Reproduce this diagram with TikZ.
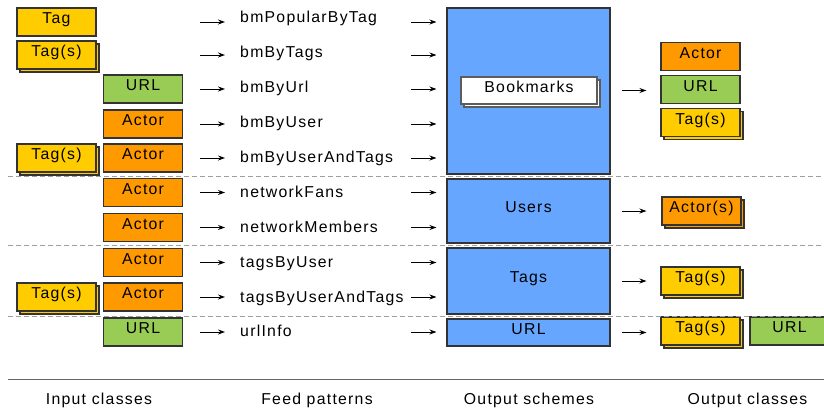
\documentclass[tikz,border=0pt]{standalone}
\usepackage{fontspec}
\setmainfont{Liberation Sans}[LetterSpace=8]
\usetikzlibrary{arrows.meta,shadows}
\definecolor{tagyellow}{RGB}{255,204,0}
\definecolor{actororange}{RGB}{255,153,0}
\definecolor{urlgreen}{RGB}{153,204,85}
\definecolor{schemeblue}{RGB}{102,166,255}
\definecolor{edgegray}{RGB}{51,51,51}
\begin{document}
\begin{tikzpicture}[x=1pt, y=-1pt,
  every node/.style={font=\fontsize{15.8}{17}\selectfont, text=black},
  cls/.style={draw=edgegray, line width=1.1pt, minimum width=79pt, minimum height=28pt,
    inner sep=0pt, text height=10pt, text depth=7pt},
  tagcls/.style={cls, fill=tagyellow},
  tagscls/.style={tagcls, general shadow={shadow xshift=3pt, shadow yshift=-3pt,
    fill=tagyellow, draw=edgegray, line width=1.1pt}},
  actorcls/.style={cls, fill=actororange},
  actorscls/.style={actorcls, general shadow={shadow xshift=3pt, shadow yshift=-3pt,
    fill=actororange, draw=edgegray, line width=1.1pt}},
  urlcls/.style={cls, fill=urlgreen},
  scheme/.style={cls, fill=schemeblue, minimum width=163pt},
  feed/.style={anchor=base west, inner sep=0pt},
  arr/.style={-{Stealth[length=7pt,width=5pt]}, line width=1pt, black},
  sep/.style={draw=gray!75, dash pattern=on 5pt off 3pt, line width=0.9pt},
  caption/.style={anchor=base, inner sep=0pt}]
  \useasboundingbox (0,0) rectangle (824,410);

  % Input classes
  \node[tagcls] (inTag1) at (56.5,22) {Tag};
  \node[tagscls] (inTags2) at (56.5,55) {Tag(s)};
  \node[urlcls] (inUrl3) at (143,89) {URL};
  \node[actorcls] (inActor4) at (143,124) {Actor};
  \node[tagscls] (inTags5) at (56.5,158) {Tag(s)};
  \node[actorcls] (inActor5) at (143,158) {Actor};
  \node[actorcls] (inActor6) at (143,192.5) {Actor};
  \node[actorcls] (inActor7) at (143,227.5) {Actor};
  \node[actorcls] (inActor8) at (143,262.5) {Actor};
  \node[tagscls] (inTags9) at (56.5,297) {Tag(s)};
  \node[actorcls] (inActor9) at (143,297) {Actor};
  \node[urlcls] (inUrl10) at (143,332) {URL};

  % Feed patterns
  \node[feed] (fp1) at (240,22) {bmPopularByTag};
  \node[feed] (fp2) at (240,57) {bmByTags};
  \node[feed] (fp3) at (240,92) {bmByUrl};
  \node[feed] (fp4) at (240,127) {bmByUser};
  \node[feed] (fp5) at (240,162) {bmByUserAndTags};
  \node[feed] (fp6) at (240,197) {networkFans};
  \node[feed] (fp7) at (240,232) {networkMembers};
  \node[feed] (fp8) at (240,267) {tagsByUser};
  \node[feed] (fp9) at (240,302) {tagsByUserAndTags};
  \node[feed] (fp10) at (240,336) {urlInfo};

  % Output schemes
  \node[scheme, minimum height=166pt] (bm) at (528.5,91) {};
  \node[cls, fill=white, draw=edgegray!80, minimum width=136pt, minimum height=27pt,
    general shadow={shadow xshift=3pt, shadow yshift=-3pt, fill=white, draw=edgegray!80, line width=1.1pt}]
    (bmk) at (529,90.5) {Bookmarks};
  \node[scheme, minimum height=64pt] (users) at (528.5,211) {Users};
  \node[scheme, minimum height=66pt] (tags) at (528.5,281) {Tags};
  \node[scheme, minimum height=27pt] (url) at (528.5,332.5) {URL};

  % Output classes
  \node[actorcls] (outActor) at (700.5,56.5) {Actor};
  \node[urlcls] (outUrl) at (700.5,89.5) {URL};
  \node[tagscls] (outTags) at (700.5,122.5) {Tag(s)};
  \node[actorscls] (outActors) at (701.5,211) {Actor(s)};
  \node[tagscls] (outTags2) at (700.5,281) {Tag(s)};
  \node[tagscls] (outTags3) at (700.5,331) {Tag(s)};
  \node[urlcls] (outUrl2) at (789.5,331) {URL};

  % Arrows into the feed patterns
  \draw[arr] ([xshift=-40pt]fp1.west |- inTag1.center) -- ([xshift=-15pt]fp1.west |- inTag1.center);
  \draw[arr] ([xshift=-40pt]fp2.west |- inTags2.center) -- ([xshift=-15pt]fp2.west |- inTags2.center);
  \draw[arr] ([xshift=-40pt]fp3.west |- inUrl3.center) -- ([xshift=-15pt]fp3.west |- inUrl3.center);
  \draw[arr] ([xshift=-40pt]fp4.west |- inActor4.center) -- ([xshift=-15pt]fp4.west |- inActor4.center);
  \draw[arr] ([xshift=-40pt]fp5.west |- inActor5.center) -- ([xshift=-15pt]fp5.west |- inActor5.center);
  \draw[arr] ([xshift=-40pt]fp6.west |- inActor6.center) -- ([xshift=-15pt]fp6.west |- inActor6.center);
  \draw[arr] ([xshift=-40pt]fp7.west |- inActor7.center) -- ([xshift=-15pt]fp7.west |- inActor7.center);
  \draw[arr] ([xshift=-40pt]fp8.west |- inActor8.center) -- ([xshift=-15pt]fp8.west |- inActor8.center);
  \draw[arr] ([xshift=-40pt]fp9.west |- inActor9.center) -- ([xshift=-15pt]fp9.west |- inActor9.center);
  \draw[arr] ([xshift=-40pt]fp10.west |- inUrl10.center) -- ([xshift=-15pt]fp10.west |- inUrl10.center);

  % Arrows into the output schemes
  \draw[arr] ([xshift=-35pt]bm.west |- inTag1.center) -- ([xshift=-10pt]bm.west |- inTag1.center);
  \draw[arr] ([xshift=-35pt]bm.west |- inTags2.center) -- ([xshift=-10pt]bm.west |- inTags2.center);
  \draw[arr] ([xshift=-35pt]bm.west |- inUrl3.center) -- ([xshift=-10pt]bm.west |- inUrl3.center);
  \draw[arr] ([xshift=-35pt]bm.west |- inActor4.center) -- ([xshift=-10pt]bm.west |- inActor4.center);
  \draw[arr] ([xshift=-35pt]bm.west |- inActor5.center) -- ([xshift=-10pt]bm.west |- inActor5.center);
  \draw[arr] ([xshift=-35pt]users.west |- inActor6.center) -- ([xshift=-10pt]users.west |- inActor6.center);
  \draw[arr] ([xshift=-35pt]users.west |- inActor7.center) -- ([xshift=-10pt]users.west |- inActor7.center);
  \draw[arr] ([xshift=-35pt]tags.west |- inActor8.center) -- ([xshift=-10pt]tags.west |- inActor8.center);
  \draw[arr] ([xshift=-35pt]tags.west |- inActor9.center) -- ([xshift=-10pt]tags.west |- inActor9.center);
  \draw[arr] ([xshift=-35pt]url.west |- inUrl10.center) -- ([xshift=-10pt]url.west |- inUrl10.center);

  % Arrows into the output classes
  \draw[arr] ([xshift=11pt]bm.east |- bmk.center) -- ([xshift=-14pt]outUrl.west |- bmk.center);
  \draw[arr] ([xshift=11pt]users.east) -- ([xshift=-15pt]outActors.west |- users.east);
  \draw[arr] ([xshift=11pt]tags.east) -- ([xshift=-14pt]outTags2.west |- tags.east);
  \draw[arr] ([xshift=11pt]url.east) -- ([xshift=-14pt]outTags3.west |- url.east);

  % Separators
  \draw[sep] (8,176) -- (824,176);
  \draw[sep] (8,245.5) -- (824,245.5);
  \draw[sep] (8,316) -- (824,316);
  \draw[line width=1pt, gray!80!black] (8,379) -- (824,379);

  % Column captions
  \node[caption] (capIn) at (99,404) {Input classes};
  \node[caption] (capFeed) at (317,404) {Feed patterns};
  \node[caption] (capScheme) at (529,404) {Output schemes};
  \node[caption] (capOut) at (747.5,404) {Output classes};
\end{tikzpicture}
\end{document}
